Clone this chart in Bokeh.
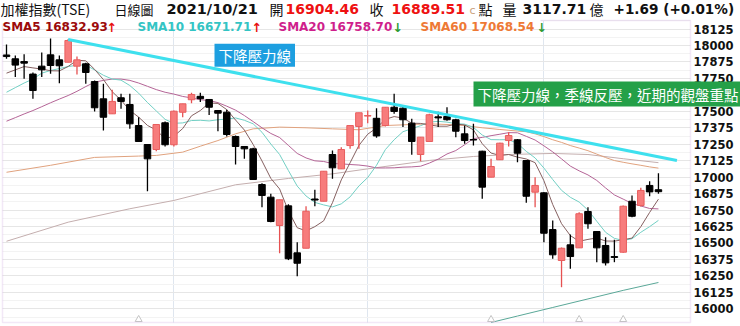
from bokeh.plotting import figure
from bokeh.models import Label, FixedTicker, Range1d, ColumnDataSource, BoxAnnotation, Grid
from bokeh.embed import file_html
from bokeh.resources import INLINE
from bokeh.core.properties import value

# ---------------- data ----------------
opens = [17928, 17899, 17878, 17783, 17843, 17929, 17891, 17873, 17843, 17861,
         17726, 17595, 17481, 17603, 17552, 17392, 17248, 17210, 17413, 17246,
         17493, 17588, 17614, 17590, 17506, 17493, 17309, 17233, 17215, 16944,
         16848, 16633, 16782, 16425, 16460, 16834, 16817, 17172, 17063, 17240,
         17385, 17464, 17447, 17392, 17531, 17524, 17410, 17172, 17271, 17458,
         17461, 17436, 17329, 17286, 17197, 17000, 17132, 17278, 17284, 17126,
         16886, 16881, 16602, 16367, 16486, 16463, 16739, 16587, 16481, 16397,
         16430, 16817, 16785, 16937, 16904.46]
highs = [18008, 17924, 17934, 17795, 17947, 18053, 17924, 18050, 17916, 17869,
         17734, 17709, 17663, 17633, 17633, 17455, 17248, 17400, 17423, 17506,
         17557, 17641, 17641, 17590, 17506, 17512, 17317, 17233, 17223, 16954,
         16874, 16828, 16795, 16506, 16779, 16904, 17045, 17203, 17228, 17392,
         17489, 17506, 17524, 17531, 17633, 17544, 17443, 17304, 17481, 17496,
         17531, 17443, 17392, 17405, 17200, 17139, 17262, 17341, 17290, 17130,
         17000, 16885, 16671, 16465, 16564, 16734, 16772, 16590, 16544, 16524,
         16785, 16861, 16919, 16969, 17030]
lows = [17899, 17760, 17748, 17595, 17760, 17785, 17714, 17873, 17779, 17709,
        17499, 17354, 17481, 17519, 17367, 17271, 16893, 17197, 17233, 17233,
        17455, 17562, 17570, 17473, 17349, 17309, 17096, 17139, 16982, 16772,
        16658, 16422, 16370, 16248, 16460, 16779, 16817, 16988, 17063, 17215,
        17215, 17410, 17300, 17385, 17481, 17380, 17170, 17121, 17271, 17380,
        17428, 17304, 17253, 17240, 16836, 17000, 17132, 17233, 17114, 16805,
        16772, 16506, 16380, 16164, 16304, 16463, 16608, 16354, 16329, 16354,
        16425, 16696, 16777, 16855, 16874]
closes = [17916, 17851, 17866, 17658, 17815, 17848, 17846, 18038, 17891, 17795,
          17527, 17455, 17575, 17575, 17405, 17271, 17139, 17400, 17246, 17501,
          17557, 17628, 17596, 17531, 17486, 17324, 17233, 17215, 16982, 16861,
          16663, 16828, 16380, 16346, 16741, 16826, 17045, 17071, 17210, 17392,
          17489, 17468, 17313, 17531, 17499, 17436, 17271, 17304, 17474, 17450,
          17436, 17349, 17278, 17282, 16924, 17081, 17258, 17316, 17182, 16855,
          16937, 16574, 16410, 16460, 16397, 16722, 16646, 16463, 16349, 16390,
          16779, 16703, 16899, 16888, 16889.51]

sma5 = [17790, 17815, 17840, 17830, 17821, 17808, 17807, 17841, 17888, 17884,
        17819, 17741, 17649, 17585, 17507, 17456, 17393, 17358, 17292, 17311,
        17369, 17466, 17506, 17563, 17560, 17513, 17434, 17358, 17248, 17123,
        16991, 16910, 16743, 16616, 16592, 16624, 16668, 16806, 16979, 17109,
        17241, 17326, 17374, 17439, 17460, 17449, 17410, 17408, 17397, 17387,
        17387, 17403, 17397, 17359, 17254, 17183, 17165, 17172, 17152, 17138,
        17110, 16973, 16792, 16647, 16556, 16513, 16527, 16538, 16515, 16514,
        16525, 16537, 16624, 16732, 16832.93]
sma10 = [17645, 17680, 17715, 17745, 17790, 17810, 17825, 17840, 17850, 17852,
         17814, 17774, 17745, 17737, 17696, 17638, 17567, 17503, 17439, 17409,
         17412, 17430, 17432, 17427, 17436, 17441, 17450, 17432, 17405, 17341,
         17252, 17172, 17050, 16932, 16857, 16808, 16789, 16774, 16797, 16850,
         16933, 16997, 17090, 17209, 17284, 17345, 17368, 17391, 17418, 17424,
         17418, 17406, 17403, 17378, 17320, 17285, 17284, 17285, 17256, 17196,
         17146, 17069, 16982, 16900, 16847, 16811, 16750, 16665, 16581, 16535,
         16519, 16532, 16581, 16624, 16671.71]
sma20 = [17425, 17452, 17480, 17506, 17535, 17565, 17593, 17620, 17652, 17688,
         17721, 17735, 17745, 17745, 17735, 17715, 17690, 17665, 17645, 17631,
         17613, 17602, 17588, 17582, 17566, 17539, 17509, 17468, 17422, 17375,
         17332, 17301, 17241, 17180, 17146, 17124, 17119, 17103, 17101, 17096,
         17092, 17084, 17070, 17070, 17071, 17076, 17078, 17083, 17107, 17137,
         17176, 17202, 17246, 17293, 17302, 17315, 17326, 17338, 17337, 17310,
         17282, 17238, 17192, 17139, 17084, 17048, 17017, 16975, 16918, 16865,
         16833, 16800, 16781, 16762, 16758.70]
sma60_idx = [0, 5, 10, 15, 17, 20, 22, 24, 26, 28, 31, 34, 37, 40, 43, 46, 48, 50,
             52, 54, 56, 58, 59, 60, 61, 62, 63, 64, 65, 66, 67, 68, 69, 70, 71,
             72, 73, 74]
sma60 = [17037, 17090, 17150, 17160, 17165, 17190, 17235, 17278, 17329, 17367,
         17380, 17375, 17367, 17360, 17392, 17400, 17405, 17400, 17392, 17375,
         17362, 17350, 17345, 17329, 17308, 17284, 17264, 17240, 17221, 17201,
         17175, 17149, 17126, 17113, 17101, 17090, 17078, 17068.54]
sma120_idx = [0, 7, 14, 19, 26, 32, 37, 41, 48, 53, 57, 62, 66, 70, 74]
sma120 = [16513, 16658, 16760, 16823, 16942, 16990, 17025, 17063, 17127, 17157,
          17172, 17180, 17172, 17140, 17110]
sma240_idx = [55, 58, 62, 66, 70, 74]
sma240 = [15896, 15945, 16010, 16075, 16140, 16200]

resist_idx = [7, 76.1]
resist_val = [18045, 17127]

month_start_idx = [19, 41, 61]
event_idx = [15, 55, 65, 70]
y_ticks = [16000, 16125, 16250, 16375, 16500, 16625, 16750, 16875, 17000,
           17125, 17250, 17375, 17500, 17625, 17750, 17875, 18000, 18125]

sma_names = ["SMA5", "SMA10", "SMA20", "SMA60"]
sma_latest = [16832.93, 16671.71, 16758.70, 17068.54]
sma_trend = ["up", "up", "down", "down"]

hdr_name = "加權指數(TSE)"
hdr_period = "日線圖"
hdr_date = "2021/10/21"
hdr_open = 16904.46
hdr_close = 16889.51
hdr_volume = 3117.71
hdr_change = 1.69
hdr_pct = 0.01

note1 = "下降壓力線"
note2 = "下降壓力線，季線反壓，近期的觀盤重點"

# ---------------- layout constants (pixels) ----------------
W, H = 740, 326
X0_PX, STEP_PX = 6.0, 8.81          # centre of first candle, candle spacing
Y_REF_PX, Y_REF_VAL, PX_PER_PT = 308.3, 16000.0, 0.13165
FRAME = dict(left=2, right=690, top=20, bottom=322)   # plot box, canvas px


def px_to_x(px):
    return (px - X0_PX) / STEP_PX


def px_to_y(py):
    return Y_REF_VAL + (Y_REF_PX - py) / PX_PER_PT


n = len(closes)
idx = list(range(n))

p = figure(width=W, height=H, x_range=Range1d(px_to_x(0), px_to_x(W)),
           y_range=Range1d(px_to_y(H), px_to_y(0)), toolbar_location=None,
           output_backend="svg", x_axis_location=None, y_axis_location=None,
           min_border=0, min_border_left=0, min_border_right=0,
           min_border_top=0, min_border_bottom=0)
p.outline_line_color = None
p.background_fill_color = "white"
p.border_fill_color = "white"

fx0, fx1 = px_to_x(FRAME["left"]), px_to_x(FRAME["right"])
fy0, fy1 = px_to_y(FRAME["bottom"]), px_to_y(FRAME["top"])

minor = [t + 62.5 for t in y_ticks] + [y_ticks[0] - 62.5]
grid_has_cross = "cross_bounds" in Grid.properties()
if grid_has_cross:
    p.ygrid.ticker = FixedTicker(ticks=y_ticks, minor_ticks=minor)
    p.ygrid.grid_line_color = "#e6e6e6"
    p.ygrid.minor_grid_line_color = "#f3f3f3"
    p.ygrid.cross_bounds = (fx0, fx1)
    p.xgrid.ticker = FixedTicker(ticks=month_start_idx)
    p.xgrid.grid_line_color = "#dfe6ef"
    p.xgrid.cross_bounds = (fy0, fy1)
else:
    p.xgrid.visible = False
    p.ygrid.visible = False
    mn = [m for m in minor if fy0 < m < fy1]
    p.segment(x0=[fx0] * len(mn), y0=mn, x1=[fx1] * len(mn), y1=mn,
              line_color="#f3f3f3", line_width=1)
    p.segment(x0=[fx0] * len(y_ticks), y0=y_ticks, x1=[fx1] * len(y_ticks),
              y1=y_ticks, line_color="#e6e6e6", line_width=1)
    p.segment(x0=month_start_idx, y0=[fy0] * 3, x1=month_start_idx, y1=[fy1] * 3,
              line_color="#dfe6ef", line_width=1)

# right-hand price scale (tick labels through the y scale)
p.text(x=[px_to_x(FRAME["right"] + 3)] * len(y_ticks), y=y_ticks,
       text=[str(t) for t in y_ticks], text_font=value("DejaVu Sans"),
       text_font_style="bold", text_font_size="11.5px", text_color="#111111",
       text_align="left", text_baseline="middle")

# moving averages
p.line(sma240_idx, sma240, line_color="#5aa898", line_width=1)
p.line(sma120_idx, sma120, line_color="#c4aeae", line_width=1)
p.line(sma60_idx, sma60, line_color="#e0a27e", line_width=1)
p.line(idx, sma20, line_color="#b46496", line_width=1)
p.line(idx, sma10, line_color="#72cfc4", line_width=1)
p.line(idx, sma5, line_color="#856060", line_width=1)

# candles
up = [c >= o for o, c in zip(opens, closes)]
src = ColumnDataSource(dict(
    x=idx, o=opens, h=highs, l=lows, c=closes,
    top=[max(o, c) for o, c in zip(opens, closes)],
    bottom=[min(o, c) for o, c in zip(opens, closes)],
    fill=["#f77c7c" if u else "#000000" for u in up],
    edge=["#e85e5e" if u else "#000000" for u in up],
    wick=["#e65050" if u else "#000000" for u in up],
))
p.segment(x0="x", y0="h", x1="x", y1="l", line_color="wick", line_width=1.3, source=src)
p.vbar(x="x", width=0.74, top="top", bottom="bottom", fill_color="fill",
       line_color="edge", line_width=1, source=src)

# resistance line
p.line(resist_idx, resist_val, line_color="#3ee0ee", line_width=3)

# event markers at bottom
p.scatter(event_idx, [px_to_y(FRAME["bottom"] - 3)] * len(event_idx),
          marker="triangle", size=7, fill_color="white", line_color="#c4c4c4")

# plot box
p.add_layout(BoxAnnotation(left=FRAME["left"], right=FRAME["right"],
                           top=H - FRAME["top"], bottom=H - FRAME["bottom"],
                           left_units="screen", right_units="screen",
                           top_units="screen", bottom_units="screen",
                           fill_alpha=0, line_color="#d4b2e4", line_width=1.5))
# the legend row hides the top edge of the box on the left
p.add_layout(BoxAnnotation(left=0, right=540, top=H - FRAME["top"] + 3,
                           bottom=H - FRAME["top"] - 3,
                           left_units="screen", right_units="screen",
                           top_units="screen", bottom_units="screen",
                           fill_color="white", fill_alpha=1, line_color=None))

CJK = "Noto Sans CJK TC"
NUM = "DejaVu Sans"

# annotations
p.add_layout(Label(x=px_to_x(214), y=px_to_y(54.7), text=note1, text_color="white",
                   text_font=CJK, text_font_size="14.5px", text_align="left",
                   text_baseline="middle", background_fill_color="#1d9fe0",
                   padding=(4, 1)))
p.add_layout(Label(x=px_to_x(473), y=px_to_y(93.6), text=note2, text_color="white",
                   text_font=CJK, text_font_size="14.5px", text_align="left",
                   text_baseline="middle", background_fill_color="#24a048",
                   padding=(4, 2)))


def screen_label(text, cx, cy, color="#111111", size="14px", font=CJK, bold=False):
    p.add_layout(Label(x=cx, y=H - cy, x_units="screen", y_units="screen",
                       text=text, text_color=color, text_font_size=size,
                       text_font=font, text_font_style="bold" if bold else "normal",
                       text_align="left", text_baseline="middle"))


# header row
R1 = 8.5
screen_label(hdr_name, 0, R1, size="14px")
screen_label(hdr_period, 114, R1, size="13px")
screen_label(hdr_date, 166, R1, font=NUM, bold=True, size="14.5px")
screen_label("開", 269, R1, size="14px")
screen_label(f"{hdr_open:.2f}", 285, R1, color="#ee1111", font=NUM, bold=True)
screen_label("收", 369, R1, size="14px")
screen_label(f"{hdr_close:.2f}", 391, R1, color="#ee1111", font=NUM, bold=True)
screen_label("c", 469, R1 + 1, color="#c9a27c", font=NUM, size="11px")
screen_label("點", 478, R1, size="14px")
screen_label("量", 502, R1, size="14px")
screen_label(f"{hdr_volume:.2f}", 522, R1, font=NUM, bold=True)
screen_label("億", 589, R1, size="14px")
screen_label(f"{hdr_change:+.2f} ({hdr_pct:+.2f}%)", 613, R1, font=NUM, bold=True,
             size="13.6px")

# SMA legend row
R2 = 26.7
sma_colors = ["#9c0b0b", "#33c4c4", "#cf1f8c", "#ee7935"]
sma_x = [2, 137, 278, 420]
arrow_x = [106, 251, 392, 536]
for name, val, trend, col, sx, ax in zip(sma_names, sma_latest, sma_trend,
                                          sma_colors, sma_x, arrow_x):
    screen_label(f"{name} {val:.2f}", sx, R2, color=col, font=NUM, bold=True,
                 size="12px")
    screen_label("↑" if trend == "up" else "↓", ax, R2,
                 color="#e81010" if trend == "up" else "#2e9a32", font=NUM,
                 bold=True, size="12.5px")

open("out.html", "w").write(file_html(p, INLINE))
